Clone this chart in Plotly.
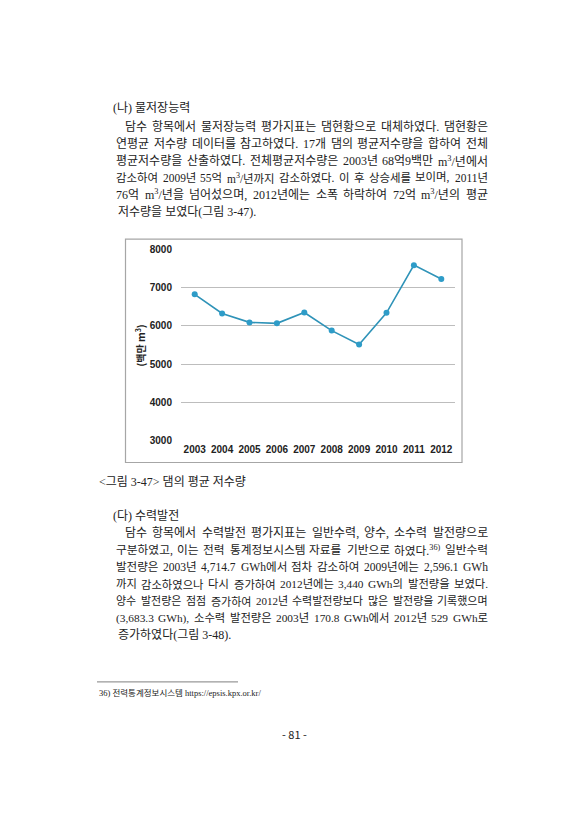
import re
import plotly.graph_objects as go

# page is placed by the browser with an 8px body margin
OFF = 8
W, H = 588 - 2 * OFF, 840 - 2 * OFF

years = [2003, 2004, 2005, 2006, 2007, 2008, 2009, 2010, 2011, 2012]
storage = [6825, 6325, 6093, 6067, 6351, 5878, 5517, 6342, 7588, 7227]
y_ticks = [3000, 4000, 5000, 6000, 7000, 8000]
y_title = "(백만 m<sup>3</sup>)"

upper_heading = "(나) 물저장능력"
upper_lines = [
    "담수 항목에서 물저장능력 평가지표는 댐현황으로 대체하였다. 댐현황은",
    "연평균 저수량 데이터를 참고하였다. 17개 댐의 평균저수량을 합하여 전체",
    "평균저수량을 산출하였다. 전체평균저수량은 2003년 68억9백만 m<sup>3</sup>/년에서",
    "감소하여 2009년 55억 m<sup>3</sup>/년까지 감소하였다. 이 후 상승세를 보이며, 2011년",
    "76억 m<sup>3</sup>/년을 넘어섰으며, 2012년에는 소폭 하락하여 72억 m<sup>3</sup>/년의 평균",
    "저수량을 보였다(그림 3-47).",
]
caption = "&lt;그림 3-47&gt; 댐의 평균 저수량"
lower_heading = "(다) 수력발전"
lower_lines = [
    "담수 항목에서 수력발전 평가지표는 일반수력, 양수, 소수력 발전량으로",
    "구분하였고, 이는 전력 통계정보시스템 자료를 기반으로 하였다.<sup>36)</sup> 일반수력",
    "발전량은 2003년 4,714.7 GWh에서 점차 감소하여 2009년에는 2,596.1 GWh",
    "까지 감소하였으나 다시 증가하여 2012년에는 3,440 GWh의 발전량을 보였다.",
    "양수 발전량은 점점 증가하여 2012년 수력발전량보다 많은 발전량을 기록했으며",
    "(3,683.3 GWh), 소수력 발전량은 2003년 170.8 GWh에서 2012년 529 GWh로",
    "증가하였다(그림 3-48).",
]
footnote = "36) 전력통계정보시스템 https://epsis.kpx.or.kr/"
page_no = "- 81 -"


def px(x):
    return (x - OFF) / W


def py(y):
    return 1 - (y - OFF) / H


SERIF = "Liberation Serif, Noto Sans CJK KR, serif"
SANS = "Noto Sans CJK KR, Liberation Sans, sans-serif"
CHART_FONT = "Liberation Sans, Arial, sans-serif"
TXT = "#222222"
FS = 12
MIN_GAP = 4.5

LATIN_W = {
    '.': 0.25, ',': 0.25, '(': 0.333, ')': 0.333, '/': 0.278, '-': 0.333,
    'G': 0.722, 'W': 0.944, 'h': 0.5, 'm': 0.778, ' ': 0.25,
}


def char_w(c):
    if '\uac00' <= c <= '\ud7a3':
        return 0.92
    if c.isdigit():
        return 0.5
    return LATIN_W.get(c, 0.5)


def est_em(s):
    total = 0.0
    parts = re.split(r'(<sup>.*?</sup>)', s)
    for p in parts:
        if p.startswith('<sup>'):
            inner = p[5:-6]
            total += sum(char_w(c) for c in inner) * 0.7
        else:
            p = p.replace('&lt;', '<').replace('&gt;', '>')
            total += sum(char_w(c) for c in p)
    return total


annotations = []


def add_text(text, x, y, size=FS, family=SERIF, anchor="left"):
    annotations.append(dict(text=text, x=px(x), y=py(y), xref="paper", yref="paper",
                            xanchor=anchor, yanchor="middle", showarrow=False,
                            font=dict(family=family, size=size, color=TXT)))


def add_justified(text, left, right, y):
    words = text.split(' ')
    ems = [est_em(w) for w in words]
    span = right - left
    n_gaps = len(words) - 1
    size = FS
    if sum(ems) * size + n_gaps * MIN_GAP > span:
        size = (span - n_gaps * MIN_GAP) / sum(ems)
    widths = [e * size for e in ems]
    gap = (span - sum(widths)) / n_gaps
    cur = left
    for w, wd in zip(words, widths):
        add_text(w, cur + wd / 2, y, size=size, anchor="center")
        cur += wd + gap


RIGHT = 488
add_text(upper_heading, 111, 104)
upper_y = [123, 140.5, 158, 175, 192, 209]
for i, (t, y) in enumerate(zip(upper_lines, upper_y)):
    left = 125 if i == 0 else 116
    if i < len(upper_lines) - 1:
        add_justified(t, left, RIGHT, y)
    else:
        add_text(t, left, y)

add_text(caption, 97, 483)

add_text(lower_heading, 111, 517)
lower_y = [534.3, 551.6, 568.9, 586.2, 603.5, 620.8, 638.1]
for i, (t, y) in enumerate(zip(lower_lines, lower_y)):
    left = 125 if i == 0 else 116
    if i < len(lower_lines) - 1:
        add_justified(t, left, RIGHT, y)
    else:
        add_text(t, left, y)

add_text(footnote, 97, 696, size=8.5)
add_text(page_no, 294, 738, size=11, family=SANS, anchor="center")

# y-axis title of the chart
annotations.append(dict(text="<b>" + y_title + "</b>", x=px(140.5), y=py(345), xref="paper", yref="paper",
                        xanchor="center", yanchor="middle", showarrow=False, textangle=-90,
                        font=dict(family=SANS, size=10, color="#222222")))

fig = go.Figure()
fig.add_trace(go.Scatter(
    x=years, y=storage, mode="lines+markers",
    line=dict(color="#2F93B8", width=1.6),
    marker=dict(color="#2E9CC8", size=6),
    showlegend=False, hoverinfo="x+y",
))

shapes = [
    dict(type="rect", xref="paper", yref="paper", x0=px(125.5), x1=px(462), y0=py(463), y1=py(237),
         line=dict(color="#A6A6A6", width=1.2), fillcolor="rgba(0,0,0,0)", layer="below"),
    dict(type="line", xref="paper", yref="paper", x0=px(97), x1=px(238), y0=py(685), y1=py(685),
         line=dict(color="#999999", width=1.2)),
]

fig.update_layout(
    width=W, height=H,
    margin=dict(l=0, r=0, t=0, b=0),
    paper_bgcolor="white", plot_bgcolor="white",
    annotations=annotations, shapes=shapes,
    xaxis=dict(domain=[px(181), px(455)], range=[2002.5, 2012.5],
               tickmode="array", tickvals=years, ticktext=[f"<b>{y}</b>" for y in years],
               showgrid=False, zeroline=False, showline=False, ticks="",
               tickfont=dict(family=CHART_FONT, size=10, color="#222222")),
    yaxis=dict(domain=[py(441.8), py(246.5)], range=[2980, 8020],
               tickmode="array", tickvals=y_ticks, ticktext=[f"<b>{v}</b>" for v in y_ticks],
               showgrid=True, gridcolor="#BDBDBD", gridwidth=1, zeroline=False, showline=False,
               ticks="", ticklabelstandoff=8,
               tickfont=dict(family=CHART_FONT, size=10, color="#222222")),
)

fig.write_html("out.html")
